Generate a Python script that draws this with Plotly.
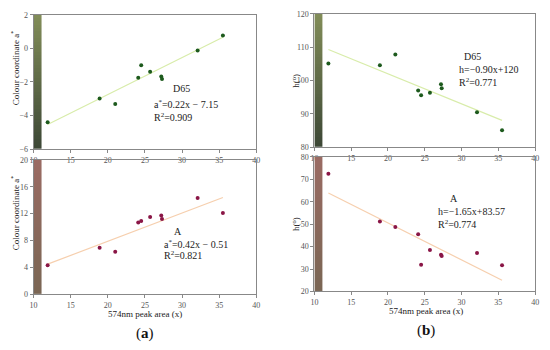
import numpy as np
import plotly.graph_objects as go

# ---- data ----
peak_area = [11.9, 18.9, 21.0, 24.1, 24.5, 25.7, 27.2, 27.3, 32.1, 35.5]
a_D65 = [-4.40, -2.99, -3.31, -1.75, -1.00, -1.40, -1.67, -1.83, -0.13, 0.76]
a_A = [4.33, 6.92, 6.35, 10.67, 10.9, 11.5, 11.73, 11.2, 14.33, 12.1]
h_D65 = [105.1, 104.6, 107.8, 97.0, 95.6, 96.3, 98.9, 97.7, 90.5, 85.1]
h_A = [72.5, 51.2, 48.8, 45.5, 31.9, 38.5, 36.4, 35.8, 37.2, 31.7]

# fitted equations (slope, intercept) as printed in the chart
fit_a_D65 = (0.22, -7.15)
fit_a_A = (0.42, -0.51)
fit_h_D65 = (-0.90, 120.0)
fit_h_A = (-1.65, 83.57)

eq_text = {
    "aD": ["D65", "a<sup>*</sup>=0.22x − 7.15", "R<sup>2</sup>=0.909"],
    "aA": ["A", "a<sup>*</sup>=0.42x − 0.51", "R<sup>2</sup>=0.821"],
    "hD": ["D65", "h=−0.90x+120", "R<sup>2</sup>=0.771"],
    "hA": ["A", "h=−1.65x+83.57", "R<sup>2</sup>=0.774"],
}

xlim = [10, 40]
xticks = [10, 15, 20, 25, 30, 35, 40]

FONT = "Liberation Serif"
GREEN_DOT = "#1d5a1d"
RED_DOT = "#8a1646"
GREEN_LINE = "#d8ecaa"
ORANGE_LINE = "#f6cfae"
GREEN_SCALE = [[0, "#3d4836"], [1, "#818c58"]]
BROWN_SCALE = [[0, "#7a6654"], [1, "#9a6b63"]]

panels = [
    ("aD", 1, a_D65, fit_a_D65, [-6, 2], [-6, -4, -2, 0, 2], [0.0545, 0.4655], [0.5743, 0.9686], GREEN_DOT, GREEN_LINE, GREEN_SCALE),
    ("aA", 2, a_A, fit_a_A, [0, 20], [0, 4, 8, 12, 16, 20], [0.0545, 0.4655], [0.1486, 0.5429], RED_DOT, ORANGE_LINE, BROWN_SCALE),
    ("hD", 3, h_D65, fit_h_D65, [80, 120], [80, 90, 100, 110, 120], [0.5727, 0.98], [0.58, 0.9714], GREEN_DOT, GREEN_LINE, GREEN_SCALE),
    ("hA", 4, h_A, fit_h_A, [20, 80], [20, 30, 40, 50, 60, 70, 80], [0.5727, 0.98], [0.1571, 0.5514], RED_DOT, ORANGE_LINE, BROWN_SCALE),
]

fig = go.Figure()
layout = dict(
    width=550, height=350, margin=dict(l=0, r=0, t=0, b=0),
    paper_bgcolor="white", plot_bgcolor="white", showlegend=False,
    font=dict(family=FONT, color="#222"),
)

annotations = []
for key, i, ys, fit, yr, yt, dx, dy, dot, lcol, cscale in panels:
    xa = "x" if i == 1 else f"x{i}"
    ya = "y" if i == 1 else f"y{i}"
    # gradient strip at left edge
    n = 40
    edges = np.linspace(yr[0], yr[1], n + 1)
    z = [[k] for k in range(n)]
    fig.add_trace(go.Heatmap(x=[10, 11.1], y=edges, z=z, colorscale=cscale,
                             showscale=False, hoverinfo="skip", xaxis=xa, yaxis=ya))
    # fit line
    xs = np.array([min(peak_area), max(peak_area)])
    fig.add_trace(go.Scatter(x=xs, y=fit[0] * xs + fit[1], mode="lines",
                             line=dict(color=lcol, width=1.2), xaxis=xa, yaxis=ya))
    # points
    fig.add_trace(go.Scatter(x=peak_area, y=ys, mode="markers",
                             marker=dict(color=dot, size=4), xaxis=xa, yaxis=ya))
    axcommon = dict(showgrid=False, zeroline=False, showline=True, linecolor="#888",
                    linewidth=1, mirror=True, ticks="outside", ticklen=3,
                    tickcolor="#888", tickfont=dict(size=8, color="#555", family=FONT))
    layout["xaxis" if i == 1 else f"xaxis{i}"] = dict(
        axcommon, domain=dx, range=xlim, tickvals=xticks, anchor=ya)
    layout["yaxis" if i == 1 else f"yaxis{i}"] = dict(
        axcommon, domain=dy, range=yr, tickvals=yt, anchor=xa)

fig.update_layout(**layout)

def ann(text, x, y, size=10, angle=0, xanchor="center", color="#222"):
    annotations.append(dict(text=text, x=x / 550, y=1 - y / 350, xref="paper", yref="paper",
                            showarrow=False, xanchor=xanchor, yanchor="middle",
                            textangle=angle, font=dict(size=size, family=FONT, color=color)))

blocks = {
    "aD": (180, 150, 87, 103, 116),
    "aA": (177, 160, 233, 246, 258),
    "hD": (475, 460, 54, 67, 80),
    "hA": (457, 438, 200, 213, 226),
}
for key, (cx, lx, y1, y2, y3) in blocks.items():
    t = eq_text[key]
    ann(t[0], cx, y1)
    ann(t[1], lx, y2, xanchor="left")
    ann(t[2], lx, y3, xanchor="left")

ann("Colour coordinate a<sup>*</sup>", 12, 65, size=9, angle=-90)
ann("Colour coordinate a<sup>*</sup>", 12, 214, size=9, angle=-90)
ann("h(<sup>o</sup>)", 296, 79, size=9, angle=-90)
ann("h(<sup>o</sup>)", 296, 226, size=9, angle=-90)
ann("574nm peak area (x)", 143, 318, size=9)
ann("574nm peak area (x)", 428, 315, size=9)
ann("(<b>a</b>)", 143, 338, size=15, color="#111")
ann("(<b>b</b>)", 428, 335, size=15, color="#111")

fig.update_layout(annotations=annotations)
fig.write_html("out.html", config={"displayModeBar": False},
               post_script="document.body.style.margin='0';document.body.style.overflow='hidden';")
